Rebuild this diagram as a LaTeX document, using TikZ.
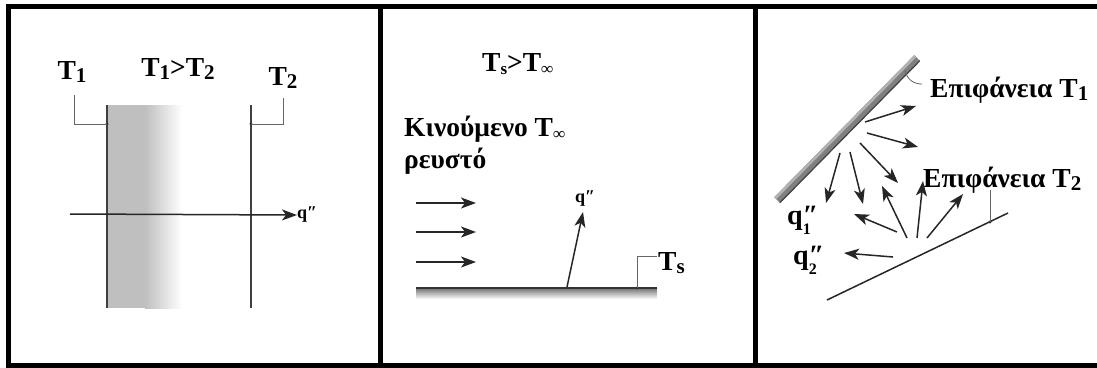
\documentclass[tikz,border=0pt]{standalone}
\usepackage{fontspec}
\setmainfont{Liberation Serif}
\usetikzlibrary{arrows.meta}
\newcommand\sbs[1]{\raisebox{-0.12em}{\fontsize{21}{21}\selectfont #1}}
\newcommand\sbi[1]{\raisebox{-0.12em}{\fontsize{17}{17}\selectfont #1}}
\newcommand\qq{″}
\begin{document}
\begin{tikzpicture}[x=1pt,y=-1pt,
 lbl/.style={inner sep=0pt, font=\fontsize{27.5}{30}\selectfont\bfseries},
 qlbl/.style={inner sep=0pt, font=\fontsize{18}{20}\selectfont\bfseries},
 qbig/.style={inner sep=0pt, font=\fontsize{28}{30}\selectfont\bfseries},
 frame/.style={line width=5pt},
 lead/.style={line width=0.8pt, black!60},
 arr/.style={line width=1.5pt, black!85, -{Stealth[length=15pt,width=11pt,inset=4pt]}},
 wall/.style={line width=1.6pt, black!75},
]
\useasboundingbox (0,0) rectangle (1097,367);
% frame
\draw[frame] (8.5,6.5) rectangle (1104,365);
\draw[frame] (380,6.5) -- (380,365);
\draw[frame] (755,6.5) -- (755,365);

% ---------- panel 1 ----------
\fill[black!25] (107,105) rectangle (145,308);
\shade[left color=black!25, right color=white] (145,105) rectangle (182,308);
\draw[wall] (107,105) -- (107,308);
\draw[wall] (251,105) -- (251,308);
\coordinate (qa) at (70,214);
\node[qlbl, anchor=west] (q1) at (297,215) {q\qq};
\draw[arr] (qa) -- (q1.west);
\coordinate (d1) at (107,124);
\coordinate (d2) at (251,124);
\fill[black!80] (d1) circle (1.6);
\fill[black!80] (d2) circle (1.6);
\node[lbl] (t1) at (72,72) {T\sbs{1}};
\node[lbl] (t12) at (178,69) {T\sbs{1}>T\sbs{2}};
\node[lbl] (t2) at (283,78) {T\sbs{2}};
\draw[lead] (74,95) |- (d1);
\draw[lead] (283,98) |- (d2);

% ---------- panel 2 ----------
\node[lbl, anchor=base west] (tst) at (482,71) {T\sbi{s}>T\sbi{∞}};
\node[lbl, anchor=base west] (kin) at (404,136) {Κινούμενο T\sbi{∞}};
\node[lbl, anchor=base west] (rev) at (404,168) {ρευστό};
\foreach \y/\n in {203/a,232/b,262/c}{
  \coordinate (f\n s) at (416,\y);
  \coordinate (f\n e) at (476,\y);
  \draw[arr] (f\n s) -- (f\n e);
}
\shade[top color=black!55, bottom color=white] (416,288) rectangle (657,299);
\coordinate (pl) at (416,288);
\coordinate (pr) at (657,288);
\draw[line width=2.5pt, black!80] (pl) -- (pr);
\coordinate (qs) at (567,287);
\coordinate (qe) at (583,212);
\draw[arr] (qs) -- (qe);
\node[qlbl] (q2) at (585,199) {q\qq};
\coordinate (d3) at (637,288);
\fill[black!80] (d3) circle (1.6);
\node[lbl, anchor=base west] (ts) at (658,270) {T\sbs{s}};
\draw[lead] (d3) |- (657,256);

% ---------- panel 3 ----------
\fill[black!50] (774.2,197.2) -- (914.2,55.2) -- (919.8,60.8) -- (779.8,202.8) -- cycle;
\fill[black!30] (774.2,197.2) -- (914.2,55.2) -- (916.2,57.2) -- (776.2,199.2) -- cycle;
\draw[black!75, line width=1.2pt] (779.8,202.8) -- (919.8,60.8);
\coordinate (h1) at (905,70);
\draw[lead] (h1) .. controls (907,80) and (914,84) .. (922,84);
\node[lbl, anchor=base west] (e1) at (930,97) {Επιφάνεια T\sbs{1}};
\node[lbl, anchor=base west] (e2) at (923,187) {Επιφάνεια T\sbs{2}};
% arrows from surface 1
\draw[arr] (865,122) -- (916,106);
\draw[arr] (867,133) -- (918,147);
\draw[arr] (860,143) -- (898,183);
\draw[arr] (850,152) -- (863,204);
\draw[arr] (840,153) -- (826,203);
% surface 2
\coordinate (s2a) at (827,300);
\coordinate (s2b) at (1008,213);
\draw[line width=1.5pt, black!85] (s2a) -- (s2b);
\coordinate (d4) at (990,222);
\fill[black!80] (d4) circle (1.6);
\draw[lead] (d4) -- (990,190);
% arrows from surface 2
\draw[arr] (907,238) -- (882,186);
\draw[arr] (917,238) -- (923,181);
\draw[arr] (927,238) -- (963,194);
\draw[arr] (897,232) -- (854,214);
\draw[arr] (893,257) -- (844,253);
\node[qbig, anchor=base west] (qa1) at (787,224) {q\rlap{\qq}\raisebox{-0.36em}{\fontsize{16}{16}\selectfont 1}};
\node[qbig, anchor=base west] (qa2) at (793,264) {q\rlap{\qq}\raisebox{-0.36em}{\fontsize{16}{16}\selectfont 2}};
\end{tikzpicture}
\end{document}
